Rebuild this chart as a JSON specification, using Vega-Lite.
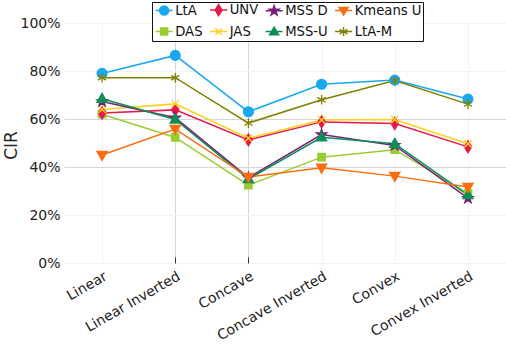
{
  "$schema": "https://vega.github.io/schema/vega-lite/v6.json",
  "autosize": "none",
  "width": 442,
  "height": 240,
  "padding": {"left": 64, "top": 23, "right": 0, "bottom": 83},
  "background": "white",
  "config": {
    "view": {"stroke": null},
    "font": "DejaVu Sans",
    "axis": {"labelFont": "DejaVu Sans", "titleFont": "DejaVu Sans", "labelColor": "#222", "titleColor": "#222"},
    "legend": {"labelFont": "DejaVu Sans"}
  },
  "data": {
    "values": [
      {"m": "LtA", "c": "Linear", "i": 0, "v": 0.79},
      {"m": "LtA", "c": "Linear Inverted", "i": 1, "v": 0.865},
      {"m": "LtA", "c": "Concave", "i": 2, "v": 0.63},
      {"m": "LtA", "c": "Concave Inverted", "i": 3, "v": 0.745},
      {"m": "LtA", "c": "Convex", "i": 4, "v": 0.762},
      {"m": "LtA", "c": "Convex Inverted", "i": 5, "v": 0.683},
      {"m": "DAS", "c": "Linear", "i": 0, "v": 0.62},
      {"m": "DAS", "c": "Linear Inverted", "i": 1, "v": 0.523},
      {"m": "DAS", "c": "Concave", "i": 2, "v": 0.324},
      {"m": "DAS", "c": "Concave Inverted", "i": 3, "v": 0.441},
      {"m": "DAS", "c": "Convex", "i": 4, "v": 0.472},
      {"m": "DAS", "c": "Convex Inverted", "i": 5, "v": 0.29},
      {"m": "UNV", "c": "Linear", "i": 0, "v": 0.625},
      {"m": "UNV", "c": "Linear Inverted", "i": 1, "v": 0.638},
      {"m": "UNV", "c": "Concave", "i": 2, "v": 0.513},
      {"m": "UNV", "c": "Concave Inverted", "i": 3, "v": 0.588},
      {"m": "UNV", "c": "Convex", "i": 4, "v": 0.581},
      {"m": "UNV", "c": "Convex Inverted", "i": 5, "v": 0.484},
      {"m": "JAS", "c": "Linear", "i": 0, "v": 0.64},
      {"m": "JAS", "c": "Linear Inverted", "i": 1, "v": 0.663},
      {"m": "JAS", "c": "Concave", "i": 2, "v": 0.52},
      {"m": "JAS", "c": "Concave Inverted", "i": 3, "v": 0.596},
      {"m": "JAS", "c": "Convex", "i": 4, "v": 0.598},
      {"m": "JAS", "c": "Convex Inverted", "i": 5, "v": 0.497},
      {"m": "MSS D", "c": "Linear", "i": 0, "v": 0.673},
      {"m": "MSS D", "c": "Linear Inverted", "i": 1, "v": 0.605},
      {"m": "MSS D", "c": "Concave", "i": 2, "v": 0.356},
      {"m": "MSS D", "c": "Concave Inverted", "i": 3, "v": 0.535},
      {"m": "MSS D", "c": "Convex", "i": 4, "v": 0.49},
      {"m": "MSS D", "c": "Convex Inverted", "i": 5, "v": 0.27},
      {"m": "MSS-U", "c": "Linear", "i": 0, "v": 0.684},
      {"m": "MSS-U", "c": "Linear Inverted", "i": 1, "v": 0.598},
      {"m": "MSS-U", "c": "Concave", "i": 2, "v": 0.35},
      {"m": "MSS-U", "c": "Concave Inverted", "i": 3, "v": 0.524},
      {"m": "MSS-U", "c": "Convex", "i": 4, "v": 0.497},
      {"m": "MSS-U", "c": "Convex Inverted", "i": 5, "v": 0.283},
      {"m": "Kmeans U", "c": "Linear", "i": 0, "v": 0.45},
      {"m": "Kmeans U", "c": "Linear Inverted", "i": 1, "v": 0.558},
      {"m": "Kmeans U", "c": "Concave", "i": 2, "v": 0.358},
      {"m": "Kmeans U", "c": "Concave Inverted", "i": 3, "v": 0.397},
      {"m": "Kmeans U", "c": "Convex", "i": 4, "v": 0.362},
      {"m": "Kmeans U", "c": "Convex Inverted", "i": 5, "v": 0.317},
      {"m": "LtA-M", "c": "Linear", "i": 0, "v": 0.772},
      {"m": "LtA-M", "c": "Linear Inverted", "i": 1, "v": 0.772},
      {"m": "LtA-M", "c": "Concave", "i": 2, "v": 0.583},
      {"m": "LtA-M", "c": "Concave Inverted", "i": 3, "v": 0.68},
      {"m": "LtA-M", "c": "Convex", "i": 4, "v": 0.76},
      {"m": "LtA-M", "c": "Convex Inverted", "i": 5, "v": 0.662}
    ]
  },
  "encoding": {
    "x": {
      "field": "c", "type": "nominal",
      "scale": {"type": "point", "padding": 0.52, "domain": ["Linear", "Linear Inverted", "Concave", "Concave Inverted", "Convex", "Convex Inverted"]},
      "axis": {
        "title": null, "domain": false,
        "ticks": true, "tickSize": -6, "tickWidth": 1,
        "tickColor": {"condition": {"test": "datum.value === 'Linear Inverted' || datum.value === 'Concave'", "value": "#333"}, "value": "#f3f3f3"},
        "labelAngle": -30, "labelAlign": "right", "labelBaseline": "top",
        "labelFontSize": 14, "labelPadding": 12,
        "grid": true,
        "gridColor": {"condition": {"test": "datum.value === 'Linear Inverted' || datum.value === 'Concave'", "value": "#d6d6d6"}, "value": "#f3f3f3"},
        "gridWidth": 1
      }
    },
    "y": {
      "field": "v", "type": "quantitative",
      "scale": {"domain": [0, 1], "nice": false, "zero": true},
      "axis": {
        "title": "CIR", "titleFontSize": 17, "titleFontWeight": "normal",
        "titleX": -48, "titleY": 122, "titleAngle": 270, "titleAlign": "center", "titleBaseline": "alphabetic",
        "format": ".0%", "values": [0, 0.2, 0.4, 0.6, 0.8, 1],
        "domain": false, "ticks": false, "labelFontSize": 14, "labelPadding": 4,
        "grid": true,
        "gridColor": {"condition": {"test": "datum.value === 0.4 || datum.value === 0.6", "value": "#d6d6d6"}, "value": "#f3f3f3"},
        "gridWidth": 1
      }
    },
    "color": {
      "field": "m", "type": "nominal",
      "scale": {
        "domain": ["LtA", "UNV", "MSS D", "Kmeans U", "DAS", "JAS", "MSS-U", "LtA-M"],
        "range": ["#19a8f0", "#e6194b", "#7b1e7a", "#fa6e13", "#9acd32", "#ffd21f", "#0a8f55", "#808000"]
      },
      "legend": {
        "title": null, "orient": "none", "legendX": 88, "legendY": -21,
        "direction": "horizontal", "columns": 4,
        "symbolSize": 121, "symbolStrokeWidth": 1.5, "symbolOpacity": 1, "symbolOffset": 4.5,
        "labelFontSize": 13.2, "labelOffset": 4.5, "labelColor": "#111",
        "columnPadding": 3.5, "rowPadding": 5, "padding": 1,
        "strokeColor": "#111", "fillColor": "white", "cornerRadius": 0
      }
    }
  },
  "layer": [
    {
      "mark": {"type": "line", "strokeWidth": 1.5},
      "encoding": {"order": {"field": "i", "type": "quantitative"}}
    },
    {
      "transform": [{"filter": "false"}],
      "mark": {"type": "point", "filled": true, "opacity": 1},
      "encoding": {
        "shape": {
          "field": "m", "type": "nominal",
          "scale": {
            "domain": ["LtA", "UNV", "MSS D", "Kmeans U", "DAS", "JAS", "MSS-U", "LtA-M"],
            "range": [
              "M-1.55,0L1.55,0M0.82,0A0.82,0.82,0,1,1,-0.82,0A0.82,0.82,0,1,1,0.82,0Z",
              "M-1.55,0L1.55,0M0,-1L0.62,0L0,1L-0.62,0Z",
              "M-1.55,0L1.55,0M0,-0.91L0.214,-0.295L0.865,-0.281L0.346,0.113L0.535,0.736L0,0.364L-0.535,0.736L-0.346,0.113L-0.865,-0.281L-0.214,-0.295Z",
              "M-1.55,0L1.55,0M-0.82,-0.55L0.82,-0.55L0,0.82Z",
              "M-1.55,0L1.55,0M-0.64,-0.64L0.64,-0.64L0.64,0.64L-0.64,0.64Z",
              "M-1.55,0L1.55,0M-0.58,-0.58L0.58,0.58M-0.58,0.58L0.58,-0.58",
              "M-1.55,0L1.55,0M-0.82,0.55L0.82,0.55L0,-0.82Z",
              "M-1.55,0L1.55,0M0,-0.82L0,0.82M-0.71,-0.41L0.71,0.41M-0.71,0.41L0.71,-0.41"
            ]
          }
        },
        "stroke": {
          "field": "m", "type": "nominal",
          "scale": {
            "domain": ["LtA", "UNV", "MSS D", "Kmeans U", "DAS", "JAS", "MSS-U", "LtA-M"],
            "range": ["#19a8f0", "#e6194b", "#7b1e7a", "#fa6e13", "#9acd32", "#ffd21f", "#0a8f55", "#808000"]
          }
        }
      }
    },
    {
      "transform": [{"filter": "datum.m === 'LtA'"}],
      "mark": {"type": "point", "filled": true, "size": 144, "opacity": 1, "strokeWidth": 1.3, "shape": "M0.82,0A0.82,0.82,0,1,1,-0.82,0A0.82,0.82,0,1,1,0.82,0Z"},
      "encoding": {"stroke": {"field": "m", "type": "nominal"}}
    },
    {
      "transform": [{"filter": "datum.m === 'DAS'"}],
      "mark": {"type": "point", "filled": true, "size": 144, "opacity": 1, "strokeWidth": 1.3, "shape": "M-0.62,-0.62L0.62,-0.62L0.62,0.62L-0.62,0.62Z"},
      "encoding": {"stroke": {"field": "m", "type": "nominal"}}
    },
    {
      "transform": [{"filter": "datum.m === 'UNV'"}],
      "mark": {"type": "point", "filled": true, "size": 144, "opacity": 1, "strokeWidth": 1.3, "shape": "M0,-1L0.62,0L0,1L-0.62,0Z"},
      "encoding": {"stroke": {"field": "m", "type": "nominal"}}
    },
    {
      "transform": [{"filter": "datum.m === 'JAS'"}],
      "mark": {"type": "point", "filled": true, "size": 144, "opacity": 1, "strokeWidth": 1.3, "shape": "M-0.62,-0.62L0.62,0.62M-0.62,0.62L0.62,-0.62"},
      "encoding": {"stroke": {"field": "m", "type": "nominal"}}
    },
    {
      "transform": [{"filter": "datum.m === 'MSS D'"}],
      "mark": {"type": "point", "filled": true, "size": 144, "opacity": 1, "strokeWidth": 1.3, "shape": "M0,-0.9L0.212,-0.292L0.856,-0.278L0.342,0.112L0.529,0.728L0,0.36L-0.529,0.728L-0.342,0.112L-0.856,-0.278L-0.212,-0.292Z"},
      "encoding": {"stroke": {"field": "m", "type": "nominal"}}
    },
    {
      "transform": [{"filter": "datum.m === 'MSS-U'"}],
      "mark": {"type": "point", "filled": true, "size": 144, "opacity": 1, "strokeWidth": 1.3, "shape": "M-0.85,0.6L0.85,0.6L0,-0.9Z"},
      "encoding": {"stroke": {"field": "m", "type": "nominal"}}
    },
    {
      "transform": [{"filter": "datum.m === 'Kmeans U'"}],
      "mark": {"type": "point", "filled": true, "size": 144, "opacity": 1, "strokeWidth": 1.3, "shape": "M-0.85,-0.6L0.85,-0.6L0,0.9Z"},
      "encoding": {"stroke": {"field": "m", "type": "nominal"}}
    },
    {
      "transform": [{"filter": "datum.m === 'LtA-M'"}],
      "mark": {"type": "point", "filled": true, "size": 144, "opacity": 1, "strokeWidth": 1.3, "shape": "M0,-0.8L0,0.8M-0.69,-0.4L0.69,0.4M-0.69,0.4L0.69,-0.4"},
      "encoding": {"stroke": {"field": "m", "type": "nominal"}}
    }
  ]
}
